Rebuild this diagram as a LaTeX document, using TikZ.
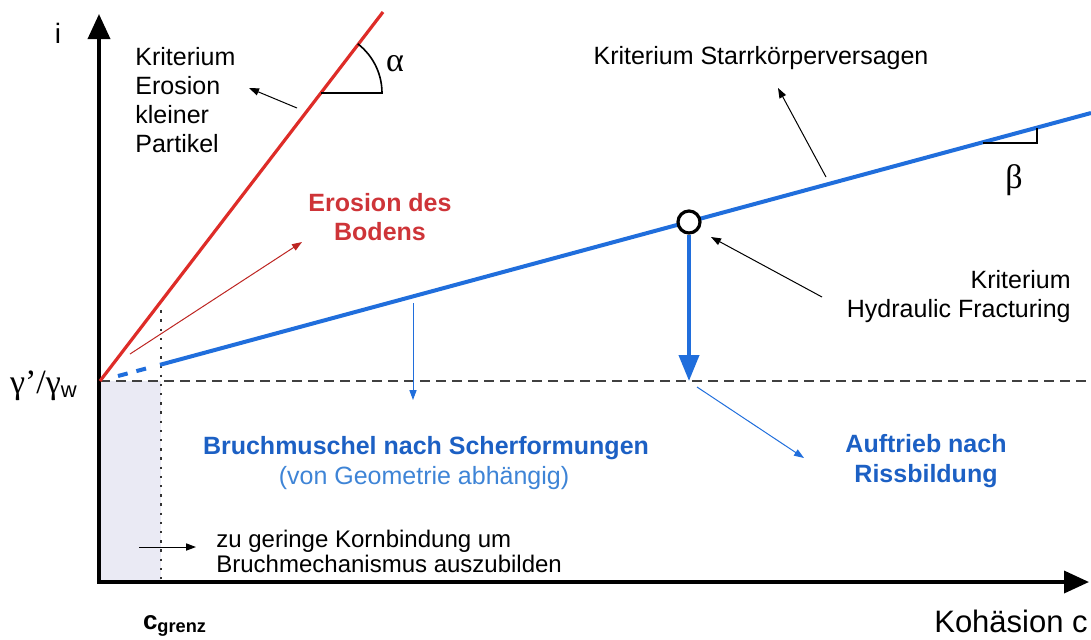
\documentclass[tikz,border=0pt]{standalone}
\usepackage{amsmath}
\usepackage{fontspec}
\setmainfont{Liberation Sans}
\newfontfamily\grk{Liberation Serif}
\usetikzlibrary{arrows.meta}
\definecolor{kritR}{RGB}{222,44,40}
\definecolor{textR}{RGB}{206,52,56}
\definecolor{kritB}{RGB}{32,110,220}
\definecolor{textB}{RGB}{28,96,196}
\definecolor{textL}{RGB}{62,132,214}
\definecolor{fillG}{RGB}{234,234,244}

\begin{document}
\begin{tikzpicture}[x=0.5pt,y=-0.5pt,>={Triangle[length=5pt,width=3.6pt]},
  lbl/.style={font=\fontsize{12.5}{14.5}\selectfont,inner sep=0pt},
  bold/.style={font=\fontsize{12.5}{14.5}\selectfont\bfseries,inner sep=0pt},
  greek/.style={font=\fontsize{17}{19}\selectfont\grk,inner sep=0pt},
  thinarr/.style={->,line width=0.5pt},
  axis/.style={line width=1.8pt,-{Triangle[length=12.5pt,width=11pt]}}]
\useasboundingbox (0,0) rectangle (1091,639);
% points of the two criteria lines
\coordinate (O) at (100,381); \coordinate (Rtop) at (383,12);
\coordinate (Bd1) at (118,376); \coordinate (Bd2) at (148,368);
\coordinate (Bsol) at (160,364.8); \coordinate (Bend) at (1091,113);
\coordinate (Dend) at (1091,381);
\coordinate (G1) at (161,301); \coordinate (G2) at (161,582);
% region below c_grenz
\fill[fillG] (O) rectangle (G2);
\draw[black!75,line width=1pt,dash pattern=on 5pt off 3pt] (O) -- (Dend);
\draw[black!80,line width=1.3pt,dash pattern=on 1.2pt off 3.4pt] (G1) -- (G2);
\draw[axis] (99,583) -- (99,14);
\draw[axis] (97,582) -- (1089,582);
\node[lbl,font=\fontsize{14}{16}\selectfont] (iax) at (58,33) {i};
\node[lbl,font=\fontsize{15.5}{18}\selectfont] (koh) at (1011,621) {Kohäsion c};
\node[lbl] (gam) at (44,386) {{\grk\fontsize{17}{19}\selectfont γ’/γ}\textsubscript{\fontsize{11}{12}\selectfont w}};
\node[lbl] (cgr) at (175,626) {\bfseries\fontsize{13}{15}\selectfont c\textsubscript{grenz}};
% red line and angle alpha
\draw[kritR,line width=1.6pt] (O) -- (Rtop);
\draw[line width=0.8pt] (321,93) -- (382,93) arc[start angle=0,end angle=-52.5,radius=62];
\node[greek] (alp) at (395,64) {α};
\node[lbl,align=left,anchor=north west] (kritE) at (135,47) {Kriterium\\Erosion\\kleiner\\Partikel};
\coordinate (eA) at (297,108); \coordinate (eB) at (249,88);
\draw[thinarr] (eA) -- (eB);
\node[bold,textR,align=center] (eros) at (380,217) {Erosion des\\Bodens};
\coordinate (rA) at (130,354); \coordinate (rB) at (302,242);
\draw[thinarr,kritR!85!black] (rA) -- (rB);
% blue line and angle beta
\draw[kritB,line width=2pt,dash pattern=on 5pt off 4.5pt] (Bd1) -- (Bd2);
\draw[kritB,line width=2pt] (Bsol) -- (Bend);
\draw[line width=0.8pt] (983,143) -- (1037,143) -- (1037,128);
\node[greek] (bet) at (1014,180) {β};
\node[lbl] (starr) at (761,58) {Kriterium Starrkörperversagen};
\coordinate (sA) at (826,177); \coordinate (sB) at (778,88);
\draw[thinarr] (sA) -- (sB);
\node[circle,draw,line width=1.6pt,fill=white,minimum size=11pt,inner sep=0pt] (hf) at (689,222) {};
\coordinate (hfD) at (689,381);
\draw[kritB,line width=2pt,-{Triangle[length=13pt,width=10pt]}] (hf) -- (hfD);
\node[lbl,align=right,anchor=east] (hydr) at (1071,297) {Kriterium\\Hydraulic Fracturing};
\coordinate (hA) at (822,297); \coordinate (hB) at (711,237);
\draw[thinarr] (hA) -- (hB);
% failure modes below gamma'/gamma_w
\coordinate (bA) at (413,303); \coordinate (bB) at (413,400);
\draw[thinarr,kritB] (bA) -- (bB);
\node[bold,textB] (bruch) at (426,448) {Bruchmuschel nach Scherformungen};
\node[lbl,textL] (geom) at (424,478) {(von Geometrie abhängig)};
\coordinate (aA) at (697,387); \coordinate (aB) at (804,458);
\draw[thinarr,kritB] (aA) -- (aB);
\node[bold,textB,align=center,font=\fontsize{12.5}{15}\selectfont\bfseries] (auf) at (926,461) {Auftrieb nach\\Rissbildung};
\node[lbl,align=left,anchor=west,font=\fontsize{12}{12.5}\selectfont] (korn) at (216,551) {zu geringe Kornbindung um\\Bruchmechanismus auszubilden};
\coordinate (kA) at (139,547); \coordinate (kB) at (196,547);
\draw[thinarr] (kA) -- (kB);
\end{tikzpicture}
\end{document}
